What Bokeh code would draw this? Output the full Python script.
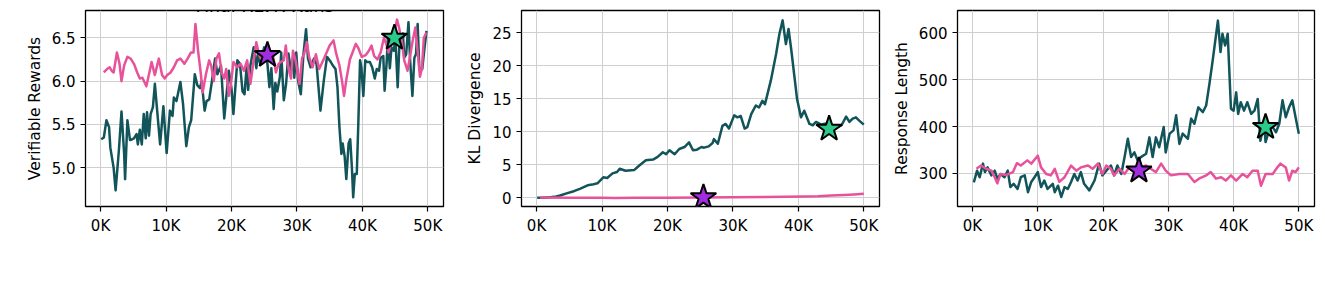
from bokeh.plotting import figure
from bokeh.layouts import row
from bokeh.models import Range1d, FixedTicker, Label, PrintfTickFormatter
from bokeh.embed import file_html
from bokeh.resources import INLINE

# ---------------- data (x in thousands of episodes) ----------------
x_ticks = [0, 10, 20, 30, 40, 50]
x_tick_labels = ["0K", "10K", "20K", "30K", "40K", "50K"]
x_label = "Episodes"
title_text = "Final RLVR Runs"

rew_dark_x = [0.1, 0.5, 0.9, 1.3, 1.5, 2.0, 2.3, 2.8, 3.2, 3.6, 3.75, 4.1, 4.5, 4.85, 5.1, 5.5, 5.7, 6.0, 6.3, 6.6,
              6.9, 7.1, 7.4, 7.65, 8.0, 8.3, 8.65, 9.1, 9.6, 10.1, 10.6, 11.0, 11.2, 11.6, 12.2, 12.6, 13.1, 13.5,
              13.85, 14.4, 14.8, 15.2, 15.45, 15.9, 16.2, 16.6, 17.0, 17.5, 17.85, 18.4, 18.9, 19.6, 20.0, 20.3,
              20.9, 21.3, 21.7, 22.0, 22.35, 22.55, 22.9, 23.4, 23.8, 24.0, 24.4, 25.0, 25.5, 25.8, 26.1, 26.45,
              26.7, 27.0, 27.4, 27.6, 28.0, 28.35, 28.7, 29.1, 29.4, 29.6, 29.9, 30.2, 30.6, 31.0, 31.4, 31.7,
              32.1, 32.6, 33.0, 33.6, 34.1, 34.6, 35.1, 35.5, 35.9, 36.2, 36.5, 36.8, 37.0, 37.3, 37.55, 37.9,
              38.15, 38.4, 38.6, 38.85, 39.15, 39.4, 39.65, 39.85, 40.15, 40.45, 40.75, 41.15, 41.5, 41.9, 42.2,
              42.55, 42.8, 43.2, 43.4, 43.7, 43.9, 44.2, 44.45, 44.8, 45.05, 45.4, 45.7, 45.95, 46.2, 46.4, 46.7,
              47.05, 47.3, 47.65, 47.95, 48.2, 48.45, 48.7, 48.9, 49.15, 49.45, 49.8]
rew_dark_y = [5.33, 5.35, 5.55, 5.47, 5.23, 5.00, 4.74, 5.20, 5.65, 5.17, 4.87, 5.55, 5.32, 5.33, 5.34, 5.39, 5.27,
              5.44, 5.27, 5.62, 5.34, 5.64, 5.37, 5.62, 5.70, 5.97, 5.66, 5.27, 5.71, 5.17, 5.66, 5.60, 5.81, 5.77,
              5.99, 5.74, 5.25, 5.47, 5.55, 6.08, 5.95, 5.92, 6.00, 5.66, 5.77, 5.79, 5.99, 6.26, 6.08, 6.18, 5.57,
              6.12, 5.92, 5.62, 6.24, 6.20, 5.88, 5.85, 6.20, 5.90, 6.18, 6.39, 6.15, 6.30, 6.20, 6.39, 6.20, 5.93,
              6.15, 5.68, 5.98, 5.88, 6.05, 6.33, 5.78, 5.97, 6.32, 6.12, 6.27, 6.04, 6.33, 6.00, 5.85, 6.31, 6.60,
              6.26, 6.16, 6.26, 6.20, 5.66, 6.00, 6.28, 6.23, 6.18, 6.14, 5.93, 5.47, 5.16, 5.28, 5.13, 4.87, 5.28,
              5.33, 5.01, 4.66, 4.93, 4.93, 5.55, 6.24, 6.16, 5.83, 6.24, 6.22, 6.22, 6.16, 6.03, 6.14, 6.12, 6.27,
              6.29, 5.89, 6.20, 6.50, 6.15, 6.39, 6.35, 6.50, 5.93, 6.50, 6.39, 6.55, 6.27, 6.31, 6.68, 6.24, 5.83,
              6.27, 6.31, 6.66, 6.16, 6.12, 6.14, 6.35, 6.58]

rew_pink_x = [0.5, 1.0, 1.4, 1.7, 2.0, 2.5, 2.9, 3.2, 3.6, 4.1, 4.6, 5.1, 5.6, 6.0, 6.4, 7.0, 7.4, 7.8, 8.3, 8.9,
              9.4, 9.8, 10.2, 10.7, 11.2, 11.7, 12.2, 12.8, 13.3, 13.8, 14.2, 14.5, 14.9, 15.3, 15.6, 16.1, 16.6,
              16.9, 17.3, 17.7, 18.1, 18.5, 18.9, 19.2, 19.6, 19.9, 20.3, 20.9, 21.4, 21.9, 22.4, 22.9, 23.4,
              23.8, 24.2, 24.5, 25.2, 25.8, 26.3, 26.8, 27.2, 27.5, 28.0, 28.3, 28.7, 29.1, 29.4, 29.8, 30.4,
              30.8, 31.1, 31.5, 31.9, 32.4, 32.9, 33.4, 34.2, 35.0, 35.6, 36.0, 36.5, 36.9, 37.2, 37.6, 38.1,
              38.6, 39.0, 39.4, 39.9, 40.5, 41.0, 41.4, 41.8, 42.3, 42.8, 43.3, 43.7, 44.0, 44.5, 45.0, 45.3,
              45.6, 46.0, 46.4, 46.9, 47.3, 47.7, 48.1, 48.5, 48.8, 49.1, 49.4, 49.8]
rew_pink_y = [6.10, 6.14, 6.16, 6.12, 6.10, 6.33, 6.20, 6.00, 6.18, 6.28, 6.26, 6.20, 6.10, 6.03, 6.04, 5.94, 6.08,
              6.22, 6.07, 6.26, 6.07, 6.03, 6.07, 6.10, 6.16, 6.24, 6.26, 6.20, 6.26, 6.33, 6.33, 6.66, 6.35, 6.10,
              5.87, 6.08, 6.24, 6.18, 6.00, 6.26, 6.32, 6.10, 6.03, 6.14, 5.83, 5.95, 6.22, 6.16, 6.20, 6.12, 6.24,
              5.97, 6.24, 6.45, 6.31, 6.26, 6.33, 6.24, 6.32, 6.10, 6.20, 6.22, 6.24, 6.41, 6.15, 6.03, 6.35, 6.24,
              5.97, 6.27, 6.31, 6.45, 6.27, 6.16, 6.31, 6.14, 6.27, 6.41, 6.47, 6.32, 6.18, 6.00, 5.83, 6.04, 6.25,
              6.35, 6.43, 6.38, 6.28, 6.30, 6.35, 6.41, 6.29, 6.25, 6.33, 6.50, 6.42, 6.33, 6.47, 6.60, 6.71, 6.62,
              6.47, 6.24, 6.12, 6.29, 6.47, 6.62, 6.30, 6.05, 6.15, 6.50, 6.56]

kl_dark_x = [0.1, 1.0, 2.1, 3.0, 3.6, 4.7, 5.7, 6.7, 7.8, 8.5, 9.3, 10.2, 10.8, 11.6, 12.3, 12.7, 13.6, 14.9, 15.7,
             16.7, 17.8, 18.5, 19.3, 19.8, 20.3, 21.1, 21.8, 22.6, 23.3, 23.9, 24.5, 25.2, 25.6, 26.3, 26.9, 27.1,
             27.7, 28.4, 28.9, 29.4, 30.2, 30.7, 31.2, 31.8, 32.2, 32.8, 33.5, 34.0, 34.5, 34.9, 35.3, 35.8, 36.6,
             37.1, 37.6, 38.1, 38.5, 38.9, 39.8, 40.4, 40.9, 41.7, 42.2, 42.7, 43.5, 44.5, 45.2, 46.0, 46.6, 47.3,
             47.8, 48.3, 48.8, 49.3, 50.0]
kl_dark_y = [0.0, 0.0, 0.1, 0.2, 0.35, 0.7, 1.0, 1.4, 1.9, 2.0, 2.2, 3.1, 3.0, 3.7, 3.9, 4.4, 4.1, 4.2, 4.9, 5.7,
             5.8, 6.2, 6.9, 6.6, 7.2, 6.6, 7.4, 7.7, 8.4, 7.2, 7.3, 7.7, 7.6, 7.8, 8.3, 8.9, 8.2, 10.9, 11.2, 10.5,
             12.5, 12.2, 12.4, 10.5, 10.7, 12.7, 14.0, 13.7, 14.7, 14.2, 15.8, 17.8, 21.8, 24.8, 26.9, 23.3, 25.6,
             22.6, 15.0, 12.2, 13.2, 11.2, 11.0, 11.5, 11.1, 11.3, 10.8, 10.7, 11.0, 12.3, 11.5, 12.0, 12.2, 11.7,
             11.1]

kl_pink_x = [0.5, 5, 10, 12, 15, 20, 25, 30, 35, 38, 41, 43, 45, 47, 48.5, 50]
kl_pink_y = [0.05, 0.02, 0.0, -0.05, 0.0, 0.02, 0.05, 0.1, 0.12, 0.15, 0.2, 0.25, 0.35, 0.42, 0.5, 0.6]

len_dark_x = [0.2, 0.7, 1.1, 1.6, 1.9, 2.3, 2.9, 3.4, 3.8, 4.3, 4.9, 5.4, 5.8, 6.3, 6.9, 7.4, 8.0, 8.5, 9.0, 9.5,
              10.0, 10.5, 11.0, 11.5, 12.3, 12.6, 13.1, 13.6, 14.1, 14.6, 15.1, 15.6, 16.1, 16.6, 17.1, 17.9, 18.7,
              19.4, 19.9, 20.5, 21.2, 21.7, 22.2, 22.8, 23.3, 23.8, 24.3, 24.8, 25.3, 25.8, 26.6, 27.1, 27.6, 28.1,
              28.6, 29.3, 29.6, 30.2, 30.8, 31.2, 31.7, 32.2, 33.0, 33.5, 34.0, 34.6, 35.3, 35.8, 36.3, 36.8, 37.6,
              38.0, 38.3, 38.7, 39.1, 39.6, 40.0, 40.4, 40.7, 41.1, 41.6, 42.1, 42.7, 43.2, 43.7, 44.1, 44.7, 44.9,
              45.5, 46.0, 46.5, 47.0, 47.5, 48.0, 48.5, 49.0, 49.5, 50.0]
len_dark_y = [281, 306, 292, 321, 303, 313, 296, 306, 289, 299, 292, 306, 271, 278, 267, 292, 296, 260, 282, 292,
              303, 271, 285, 267, 278, 260, 274, 250, 271, 267, 282, 299, 285, 303, 278, 264, 285, 321, 296, 306,
              317, 296, 317, 299, 335, 374, 335, 345, 328, 335, 342, 377, 335, 377, 356, 399, 345, 385, 392, 424,
              363, 385, 374, 417, 406, 441, 431, 445, 491, 541, 626, 559, 598, 573, 598, 438, 434, 473, 427, 452,
              434, 452, 427, 434, 459, 370, 406, 367, 395, 399, 388, 406, 456, 420, 441, 456, 420, 385]

len_pink_x = [0.6, 1.3, 2.1, 2.9, 3.4, 3.8, 4.3, 5.2, 6.2, 6.8, 7.4, 8.4, 9.0, 10.0, 10.5, 11.3, 12.0, 12.6, 13.3,
              14.1, 15.1, 15.9, 16.6, 17.7, 18.4, 19.2, 19.9, 20.5, 21.2, 21.7, 22.5, 23.3, 24.0, 24.8, 25.8, 26.6,
              27.3, 28.1, 28.9, 29.6, 30.4, 31.7, 33.0, 34.0, 34.7, 35.8, 36.5, 37.3, 38.1, 38.8, 39.6, 40.4, 41.4,
              42.1, 42.9, 43.7, 44.2, 44.9, 46.0, 46.7, 47.2, 48.0, 48.5, 49.0, 49.5, 50.0]
len_pink_y = [310, 317, 310, 306, 292, 279, 299, 297, 303, 322, 317, 328, 321, 338, 313, 299, 296, 310, 282, 292,
              317, 306, 313, 317, 310, 321, 299, 317, 310, 296, 310, 299, 313, 303, 313, 317, 310, 303, 321, 306,
              296, 299, 299, 282, 289, 296, 303, 289, 292, 285, 296, 285, 299, 292, 306, 306, 274, 299, 299, 313,
              321, 313, 285, 306, 303, 313]

star_purple_x = [25.5, 25.5, 25.5]
star_purple_y = [6.30, 0.05, 306]
star_green_x = [44.9, 44.7, 44.9]
star_green_y = [6.50, 10.45, 399]

y_labels = ["Verifiable Rewards", "KL Divergence", "Response Length"]
y_ticks = [[5.0, 5.5, 6.0, 6.5], [0, 5, 10, 15, 20, 25], [300, 400, 500, 600]]
y_ranges = [(4.554, 6.815), (-1.32, 28.4), (229.6, 647.6)]

DARK = "#11545a"
PINK = "#e8529a"
PURPLE = "#a22de0"
GREEN = "#2bc98a"
FONT = "DejaVu Sans"


def make_fig(i, left, right, fw):
    p = figure(frame_width=fw, frame_height=196, min_border_left=left, min_border_right=right,
               min_border_top=10, min_border_bottom=88, output_backend="svg", toolbar_location=None,
               x_range=Range1d(-2.3, 52.4), y_range=Range1d(*y_ranges[i]))
    p.background_fill_color = "white"
    p.border_fill_color = "white"
    p.outline_line_color = "black"
    p.outline_line_width = 1.3
    for ax in (p.xaxis[0], p.yaxis[0]):
        ax.axis_line_color = None
        ax.major_tick_in = 0
        ax.major_tick_out = 5
        ax.major_tick_line_color = "black"
        ax.major_tick_line_width = 1.2
        ax.minor_tick_line_color = None
        ax.major_label_text_font = FONT
        ax.major_label_text_font_size = "15px"
        ax.major_label_text_color = "black"
        ax.major_label_standoff = 5
    p.xaxis[0].ticker = FixedTicker(ticks=x_ticks)
    p.xaxis[0].major_label_overrides = {t: l for t, l in zip(x_ticks, x_tick_labels)}
    p.yaxis[0].ticker = FixedTicker(ticks=y_ticks[i])
    if i == 0:
        p.yaxis[0].formatter = PrintfTickFormatter(format="%.1f")
    p.yaxis[0].axis_label = y_labels[i]
    p.yaxis[0].axis_label_text_font = FONT
    p.yaxis[0].axis_label_text_font_size = "15.5px"
    p.yaxis[0].axis_label_text_font_style = "normal"
    p.yaxis[0].axis_label_text_color = "black"
    p.yaxis[0].axis_label_standoff = 5
    p.xgrid.grid_line_color = "#cfcfcf"
    p.ygrid.grid_line_color = "#cfcfcf"
    p.xgrid.ticker = FixedTicker(ticks=x_ticks)
    p.ygrid.ticker = FixedTicker(ticks=y_ticks[i])
    return p


# frames at x = 85..443, 521..879, 957..1314
p1 = make_fig(0, 85, 16, 358)   # width 459
p2 = make_fig(1, 62, 6, 358)    # width 426 -> ends 885
p3 = make_fig(2, 72, 11, 357)   # width 440 -> ends 1325

series = [(p1, rew_dark_x, rew_dark_y, rew_pink_x, rew_pink_y),
          (p2, kl_dark_x, kl_dark_y, kl_pink_x, kl_pink_y),
          (p3, len_dark_x, len_dark_y, len_pink_x, len_pink_y)]
for k, (p, dx, dy, px, py) in enumerate(series):
    p.line(dx, dy, line_color=DARK, line_width=2.5, line_join="round")
    p.line(px, py, line_color=PINK, line_width=2.5, line_join="round")
    p.scatter([star_purple_x[k]], [star_purple_y[k]], marker="star", size=27, fill_color=PURPLE,
              line_color="black", line_width=2)
    p.scatter([star_green_x[k]], [star_green_y[k]], marker="star", size=27, fill_color=GREEN,
              line_color="black", line_width=2)

# title (cut off at the top of the picture, as in the original)
p1.add_layout(Label(x=179, y=201, x_units="screen", y_units="screen", text=title_text,
                    text_align="center", text_baseline="alphabetic", text_font=FONT,
                    text_font_size="17.5px", text_color="black"))
# shared x label
p2.add_layout(Label(x=149, y=-70, x_units="screen", y_units="screen", text=x_label,
                    text_align="center", text_baseline="alphabetic", text_font=FONT,
                    text_font_size="18px", text_color="black"))

layout = row(p1, p2, p3)
open("out.html", "w").write(file_html(layout, INLINE))
